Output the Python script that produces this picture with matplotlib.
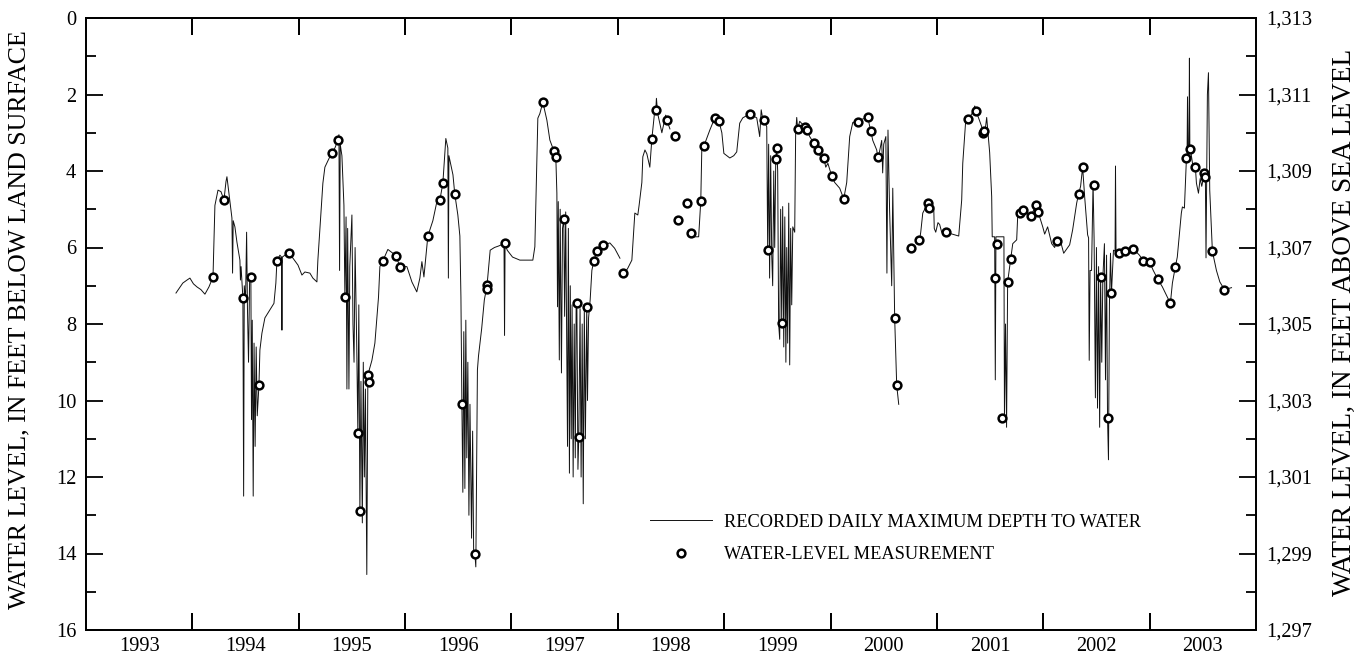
import matplotlib
matplotlib.use("Agg")
import matplotlib.pyplot as plt
import numpy as np
from matplotlib.ticker import FixedLocator

plt.rcParams["font.family"] = ["Liberation Serif", "DejaVu Serif"]

# Recorded daily maximum depth to water (decimal year, feet below land surface)
record_1993_1998 = [
    (1993.846, 7.19), (1993.88, 7.05), (1993.91, 6.93), (1993.95, 6.85), (1993.977, 6.80),
    (1994.01, 6.95), (1994.043, 7.03), (1994.08, 7.10), (1994.118, 7.22), (1994.156, 7.03),
    (1994.194, 6.77), (1994.212, 4.90), (1994.241, 4.50), (1994.269, 4.54), (1994.297, 4.76),
    (1994.316, 4.28), (1994.325, 4.15), (1994.344, 4.58), (1994.372, 5.23), (1994.378, 6.67),
    (1994.384, 5.30), (1994.400, 5.46), (1994.419, 5.86), (1994.447, 6.33), (1994.452, 6.85),
    (1994.458, 6.50), (1994.475, 7.32), (1994.482, 12.5), (1994.488, 7.00), (1994.50, 7.40),
    (1994.51, 5.60), (1994.518, 7.60), (1994.528, 9.00), (1994.538, 6.90), (1994.55, 6.77),
    (1994.556, 10.5), (1994.563, 7.90), (1994.572, 12.5), (1994.58, 8.50), (1994.59, 11.2),
    (1994.60, 8.60), (1994.61, 10.4), (1994.626, 9.60), (1994.635, 8.68), (1994.654, 8.24),
    (1994.682, 7.84), (1994.729, 7.63), (1994.767, 7.46), (1994.785, 6.93), (1994.795, 6.35),
    (1994.823, 6.20), (1994.838, 6.25), (1994.842, 8.16), (1994.846, 6.25), (1994.87, 6.20),
    (1994.908, 6.14), (1994.946, 6.28), (1994.993, 6.46), (1995.03, 6.72), (1995.058, 6.64),
    (1995.105, 6.67), (1995.133, 6.80), (1995.171, 6.90), (1995.18, 6.33), (1995.209, 5.10),
    (1995.227, 4.32), (1995.246, 3.90), (1995.28, 3.70), (1995.312, 3.52), (1995.34, 3.40),
    (1995.368, 3.20), (1995.378, 3.05), (1995.384, 6.60), (1995.39, 3.30), (1995.406, 3.60),
    (1995.425, 4.90), (1995.434, 7.30), (1995.445, 5.20), (1995.453, 9.70), (1995.46, 5.50),
    (1995.472, 9.70), (1995.48, 6.50), (1995.50, 5.15), (1995.51, 8.00), (1995.52, 9.00),
    (1995.53, 6.00), (1995.545, 8.50), (1995.556, 10.85), (1995.565, 7.50), (1995.575, 12.9),
    (1995.585, 9.50), (1995.598, 13.2), (1995.607, 9.00), (1995.617, 12.0), (1995.627, 9.70),
    (1995.64, 14.55), (1995.65, 9.33), (1995.688, 8.95), (1995.716, 8.50), (1995.75, 7.30),
    (1995.763, 6.50), (1995.791, 6.35), (1995.838, 6.05), (1995.913, 6.21), (1995.951, 6.50),
    (1996.017, 6.50), (1996.064, 6.90), (1996.11, 7.16), (1996.139, 6.80), (1996.158, 6.37),
    (1996.177, 6.77), (1996.214, 5.70), (1996.261, 5.30), (1996.299, 4.80), (1996.327, 4.76),
    (1996.355, 4.32), (1996.383, 3.15), (1996.402, 3.40), (1996.407, 6.80), (1996.412, 3.60),
    (1996.45, 4.10), (1996.467, 4.60), (1996.496, 5.15), (1996.515, 5.70), (1996.525, 7.30),
    (1996.534, 10.1), (1996.543, 12.4), (1996.552, 8.20), (1996.562, 12.3), (1996.571, 7.90),
    (1996.58, 11.5), (1996.59, 9.00), (1996.60, 13.0), (1996.61, 10.1), (1996.625, 13.6),
    (1996.635, 10.8), (1996.645, 14.1), (1996.656, 14.0), (1996.665, 14.35), (1996.68, 9.20),
    (1996.69, 8.84), (1996.72, 8.12), (1996.745, 7.37), (1996.77, 7.00), (1996.80, 6.07),
    (1996.84, 6.00), (1996.88, 5.96), (1996.93, 5.90), (1996.935, 8.30), (1996.94, 5.90),
    (1996.96, 6.07), (1997.01, 6.25), (1997.079, 6.33), (1997.201, 6.33), (1997.22, 5.98),
    (1997.239, 3.71), (1997.248, 2.62), (1997.267, 2.50), (1997.295, 2.20), (1997.333, 2.67),
    (1997.361, 3.19), (1997.398, 3.47), (1997.417, 3.63), (1997.427, 4.58), (1997.433, 7.55),
    (1997.44, 4.80), (1997.45, 8.94), (1997.458, 5.00), (1997.47, 9.28), (1997.48, 5.50),
    (1997.492, 5.26), (1997.50, 7.80), (1997.51, 5.07), (1997.518, 8.00), (1997.527, 11.2),
    (1997.535, 5.50), (1997.545, 11.9), (1997.553, 7.00), (1997.562, 11.0), (1997.57, 7.50),
    (1997.58, 12.0), (1997.59, 8.00), (1997.60, 11.5), (1997.608, 7.60), (1997.615, 7.46),
    (1997.625, 11.8), (1997.633, 10.95), (1997.645, 7.60), (1997.655, 12.0), (1997.665, 8.00),
    (1997.675, 12.7), (1997.685, 7.60), (1997.695, 11.0), (1997.708, 7.56), (1997.715, 10.0),
    (1997.725, 7.84), (1997.74, 7.37), (1997.756, 6.60), (1997.774, 6.35), (1997.803, 6.09),
    (1997.86, 5.94), (1997.925, 5.88), (1997.97, 6.02), (1998.02, 6.28),
]

record_1998a = [
    (1998.08, 6.60), (1998.094, 6.54), (1998.132, 6.33), (1998.16, 5.10), (1998.188, 5.15),
    (1998.20, 4.90), (1998.226, 4.30), (1998.235, 3.63), (1998.255, 3.45), (1998.273, 3.55),
    (1998.301, 3.90), (1998.32, 3.16), (1998.348, 2.40), (1998.357, 2.40), (1998.363, 2.10),
    (1998.375, 2.50), (1998.414, 3.00), (1998.45, 2.54), (1998.461, 2.67), (1998.49, 2.90),
]

record_1998_2000 = [
    (1998.705, 5.72), (1998.76, 5.72), (1998.78, 4.78), (1998.79, 3.37), (1998.809, 3.35),
    (1998.865, 2.93), (1998.912, 2.61), (1998.95, 2.69), (1998.978, 3.00), (1998.997, 3.54),
    (1999.053, 3.66), (1999.09, 3.60), (1999.118, 3.50), (1999.146, 2.75), (1999.175, 2.61),
    (1999.24, 2.51), (1999.306, 2.61), (1999.334, 3.10), (1999.348, 2.40), (1999.36, 2.60),
    (1999.372, 2.67), (1999.40, 2.84), (1999.409, 6.07), (1999.418, 3.30), (1999.427, 6.80),
    (1999.437, 3.60), (1999.447, 6.20), (1999.456, 7.00), (1999.466, 4.00), (1999.475, 6.00),
    (1999.485, 3.68), (1999.494, 3.40), (1999.503, 4.00), (1999.512, 8.00), (1999.522, 8.40),
    (1999.531, 5.00), (1999.541, 7.98), (1999.55, 4.93), (1999.56, 8.60), (1999.57, 5.20),
    (1999.58, 9.00), (1999.588, 6.00), (1999.597, 8.50), (1999.607, 4.84), (1999.616, 9.07),
    (1999.625, 5.50), (1999.635, 7.50), (1999.645, 5.46), (1999.663, 5.60), (1999.672, 3.00),
    (1999.682, 2.60), (1999.691, 2.90), (1999.71, 2.70), (1999.776, 2.90), (1999.804, 3.10),
    (1999.842, 3.27), (1999.879, 3.45), (1999.90, 3.60), (1999.936, 3.66), (1999.955, 3.90),
    (1999.975, 3.80), (2000.011, 4.13), (2000.039, 4.30), (2000.086, 4.45), (2000.124, 4.73),
    (2000.152, 4.30), (2000.18, 3.10), (2000.209, 2.73), (2000.256, 2.72), (2000.29, 2.65),
    (2000.35, 2.60), (2000.378, 2.95), (2000.397, 3.20), (2000.434, 3.45), (2000.444, 3.64),
    (2000.46, 3.50), (2000.481, 3.20), (2000.49, 4.05), (2000.50, 3.30), (2000.52, 3.10),
    (2000.53, 6.67), (2000.54, 2.93), (2000.555, 5.00), (2000.575, 7.00), (2000.585, 4.45),
    (2000.603, 7.85), (2000.622, 9.60), (2000.641, 10.1),
]

record_2000_2003 = [
    (2000.84, 5.75), (2000.848, 5.60), (2000.867, 5.10), (2000.914, 4.84), (2000.923, 4.97),
    (2000.95, 4.95), (2000.97, 4.92), (2000.975, 5.50), (2000.989, 5.60), (2001.01, 5.35),
    (2001.026, 5.40), (2001.045, 5.60), (2001.083, 5.60), (2001.205, 5.70), (2001.233, 4.76),
    (2001.243, 3.80), (2001.271, 2.67), (2001.29, 2.65), (2001.33, 2.50), (2001.356, 2.30),
    (2001.365, 2.43), (2001.39, 2.60), (2001.421, 2.84), (2001.43, 3.00), (2001.44, 2.96),
    (2001.455, 2.90), (2001.468, 2.60), (2001.48, 3.00), (2001.496, 3.52), (2001.515, 4.67),
    (2001.52, 5.72), (2001.543, 5.72), (2001.549, 9.46), (2001.555, 5.72), (2001.63, 5.72),
    (2001.635, 10.4), (2001.645, 8.00), (2001.655, 10.7), (2001.665, 6.90), (2001.694, 6.30),
    (2001.713, 5.90), (2001.75, 5.80), (2001.76, 5.15), (2001.777, 5.10), (2001.805, 5.02),
    (2001.843, 5.10), (2001.88, 5.18), (2001.905, 5.05), (2001.929, 4.89), (2001.948, 5.08),
    (2001.966, 5.20), (2001.995, 5.46), (2002.013, 5.65), (2002.041, 5.46), (2002.079, 5.90),
    (2002.107, 6.00), (2002.126, 5.83), (2002.154, 5.75), (2002.192, 6.15), (2002.248, 5.93),
    (2002.276, 5.54), (2002.314, 4.84), (2002.332, 4.60), (2002.351, 4.40), (2002.37, 3.90),
    (2002.389, 4.67), (2002.417, 5.67), (2002.426, 5.75), (2002.432, 8.95), (2002.44, 6.60),
    (2002.454, 6.60), (2002.468, 4.30), (2002.478, 5.80), (2002.49, 9.93), (2002.50, 6.00),
    (2002.51, 10.2), (2002.52, 6.50), (2002.53, 10.7), (2002.539, 6.77), (2002.55, 9.00),
    (2002.56, 6.80), (2002.575, 5.90), (2002.585, 9.46), (2002.595, 6.20), (2002.604, 10.45),
    (2002.613, 11.55), (2002.622, 7.50), (2002.632, 6.15), (2002.641, 7.20), (2002.66, 6.07),
    (2002.675, 6.10), (2002.679, 3.87), (2002.684, 6.10), (2002.716, 6.15), (2002.773, 6.10),
    (2002.848, 6.04), (2002.904, 6.20), (2002.942, 6.35), (2003.0, 6.38), (2003.034, 6.60),
    (2003.075, 6.82), (2003.12, 7.03), (2003.167, 7.30), (2003.195, 7.46), (2003.214, 6.93),
    (2003.242, 6.50), (2003.26, 6.25), (2003.298, 5.10), (2003.308, 4.94), (2003.327, 4.97),
    (2003.346, 3.66), (2003.352, 3.60), (2003.356, 2.06), (2003.362, 3.60), (2003.37, 3.50),
    (2003.374, 1.05), (2003.378, 3.40), (2003.383, 3.42), (2003.412, 3.97), (2003.43, 3.90),
    (2003.44, 4.32), (2003.459, 4.58), (2003.475, 4.20), (2003.49, 4.40), (2003.515, 4.05),
    (2003.524, 4.15), (2003.53, 6.27), (2003.536, 4.20), (2003.543, 2.00), (2003.553, 1.43),
    (2003.565, 4.50), (2003.581, 5.55), (2003.59, 6.10), (2003.628, 6.60), (2003.66, 6.90),
    (2003.703, 7.10), (2003.77, 7.05),
]

# Periodic water-level measurements
meas_year = [
    1994.194, 1994.297, 1994.475, 1994.55, 1994.626, 1994.795, 1994.908,
    1995.312, 1995.368, 1995.434, 1995.556, 1995.575, 1995.65, 1995.66, 1995.791, 1995.913, 1995.951,
    1996.214, 1996.327, 1996.355, 1996.467, 1996.534, 1996.656, 1996.769, 1996.773, 1996.938,
    1997.295, 1997.398, 1997.417, 1997.492, 1997.615, 1997.633, 1997.708, 1997.774, 1997.803, 1997.86,
    1998.047, 1998.32, 1998.357, 1998.461, 1998.536, 1998.564, 1998.649, 1998.686, 1998.78, 1998.809,
    1998.912, 1998.95,
    1999.24, 1999.372, 1999.409, 1999.485, 1999.494, 1999.541, 1999.691, 1999.757, 1999.776, 1999.842,
    1999.879, 1999.936, 2000.011, 2000.124,
    2000.256, 2000.35, 2000.378, 2000.444, 2000.603, 2000.622, 2000.754, 2000.829, 2000.914, 2000.923,
    2001.083, 2001.29, 2001.365, 2001.43, 2001.44, 2001.543, 2001.562, 2001.609, 2001.665, 2001.694,
    2001.777, 2001.805, 2001.88, 2001.929, 2001.948,
    2002.126, 2002.332, 2002.37, 2002.473, 2002.539, 2002.604, 2002.641, 2002.716, 2002.773, 2002.848,
    2002.942, 2003.0, 2003.075, 2003.195, 2003.242, 2003.346, 2003.383, 2003.43, 2003.515, 2003.524,
    2003.59, 2003.703,
]
meas_depth = [
    6.77, 4.76, 7.32, 6.77, 9.60, 6.35, 6.14,
    3.52, 3.20, 7.30, 10.85, 12.90, 9.33, 9.51, 6.35, 6.21, 6.50,
    5.70, 4.76, 4.32, 4.60, 10.10, 14.00, 6.98, 7.08, 5.88,
    2.20, 3.47, 3.63, 5.26, 7.46, 10.95, 7.56, 6.35, 6.09, 5.94,
    6.67, 3.16, 2.40, 2.67, 3.08, 5.28, 4.84, 5.62, 4.78, 3.35,
    2.61, 2.69,
    2.51, 2.67, 6.07, 3.68, 3.40, 7.98, 2.90, 2.85, 2.92, 3.27,
    3.45, 3.66, 4.13, 4.73,
    2.72, 2.60, 2.95, 3.64, 7.85, 9.60, 6.00, 5.80, 4.84, 4.97,
    5.60, 2.65, 2.43, 3.00, 2.96, 6.80, 5.90, 10.45, 6.90, 6.30,
    5.10, 5.02, 5.18, 4.89, 5.08,
    5.83, 4.60, 3.90, 4.37, 6.77, 10.45, 7.20, 6.15, 6.10, 6.04,
    6.35, 6.38, 6.82, 7.46, 6.50, 3.66, 3.42, 3.90, 4.05, 4.15,
    6.10, 7.10,
]

land_surface = 1313
years = list(range(1993, 2004))
year_ticks = list(range(1994, 2004))
depth_ticks = list(range(0, 17, 2))
depth_minor = list(range(1, 16, 2))
elev_labels = [f"{land_surface - d:,}" for d in depth_ticks]

# join the record segments with gaps
t, d = [], []
for seg in [record_1993_1998, record_1998a, record_1998_2000, record_2000_2003]:
    t += [p[0] for p in seg] + [np.nan]
    d += [p[1] for p in seg] + [np.nan]

fig = plt.figure(figsize=(13.7, 6.62), dpi=100)
ax = fig.add_axes([86 / 1370, 1 - 630 / 662, 1170 / 1370, 612 / 662])

ax.plot(t, d, color="#111111", linewidth=0.7,
        label="RECORDED DAILY MAXIMUM DEPTH TO WATER")
ax.plot(meas_year, meas_depth, linestyle="none", marker="o", markersize=5.6,
        markerfacecolor="white", markeredgecolor="black", markeredgewidth=1.8,
        label="WATER-LEVEL MEASUREMENT")

ax.set_xlim(1993, 2004)
ax.set_ylim(16, 0)

ax.yaxis.set_major_locator(FixedLocator(depth_ticks))
ax.yaxis.set_minor_locator(FixedLocator(depth_minor))
ax.tick_params(axis="y", which="major", direction="in", length=12, width=1.3,
               left=True, right=False, pad=7, labelsize=14.7)
ax.tick_params(axis="y", which="minor", direction="in", length=7, width=1.3,
               left=True, right=False)

# right-hand altitude scale
ax2 = ax.twinx()
ax2.set_ylim(land_surface - 16, land_surface)
ax2.yaxis.set_major_locator(FixedLocator([land_surface - v for v in depth_ticks]))
ax2.set_yticklabels(elev_labels)
ax2.yaxis.set_minor_locator(FixedLocator([land_surface - v for v in depth_minor]))
ax2.tick_params(axis="y", which="major", direction="in", length=12, width=1.3,
                pad=7, labelsize=14.7)
ax2.tick_params(axis="y", which="minor", direction="in", length=7, width=1.3)

# x: tick marks at year boundaries (top and bottom), year names centered in each year
ax.xaxis.set_major_locator(FixedLocator(year_ticks))
ax.tick_params(axis="x", which="major", direction="in", length=12, width=1.3,
               top=True, bottom=True, labelbottom=False)
xt = ax.get_xaxis_transform()
ax.vlines(year_ticks, 0, 0.027, transform=xt, colors="black", linewidth=1.3, clip_on=False)
ax.vlines(year_ticks, 0.973, 1, transform=xt, colors="black", linewidth=1.3, clip_on=False)
for y in years:
    ax.text(y + 0.5, -0.012, str(y), transform=xt, ha="center", va="top", fontsize=14.7)

for a in (ax, ax2):
    for s in a.spines.values():
        s.set_linewidth(1.3)

fig.text(19 / 1370, 1 - 320 / 662, "WATER LEVEL, IN FEET BELOW LAND SURFACE",
         rotation=90, ha="center", va="center", fontsize=18.6)
fig.text(1344 / 1370, 1 - 322 / 662, "WATER LEVEL, IN FEET ABOVE SEA LEVEL",
         rotation=90, ha="center", va="center", fontsize=19.6)

ax.legend(loc="center left", bbox_to_anchor=(650 / 1370, 1 - 538.5 / 662),
          bbox_transform=fig.transFigure, frameon=False, fontsize=13.2,
          handlelength=3.4, handletextpad=0.65, labelspacing=0.85,
          borderpad=0, borderaxespad=0)

fig.savefig("out.png", dpi=100)
